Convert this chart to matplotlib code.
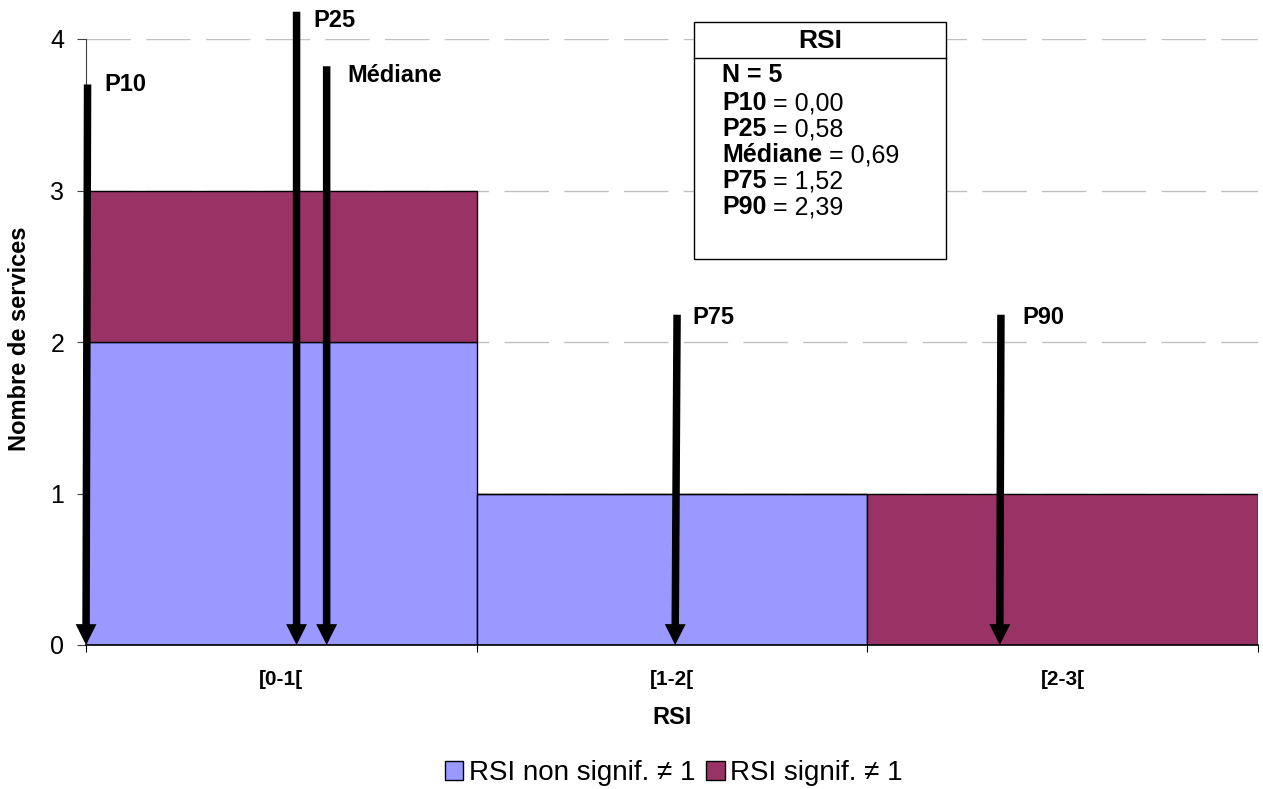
import matplotlib
matplotlib.use('Agg')
import matplotlib.pyplot as plt
from matplotlib.patches import Patch, Rectangle
from matplotlib.lines import Line2D
from matplotlib.text import Annotation
from matplotlib.ticker import FixedLocator

plt.rcParams['font.family'] = ['Liberation Sans', 'DejaVu Sans']

# données de l'histogramme
bins = ['[0-1[', '[1-2[', '[2-3[']
bin_left = [0, 1, 2]
non_signif = [2, 1, 0]
signif = [1, 0, 1]

# percentiles (flèches)
pct_names = ['P10', 'P25', 'Médiane', 'P75', 'P90']
pct_x_bottom = [0.0, 0.539, 0.616, 1.508, 2.339]
pct_x_top = [0.004, 0.539, 0.616, 1.513, 2.342]
pct_y_top = [3.70, 4.18, 3.82, 2.18, 2.18]
pct_label_x = [0.046, 0.581, 0.668, 1.551, 2.398]
pct_label_y = [3.70, 4.125, 3.756, 2.165, 2.165]

# encadré statistique
stat_bold = ['N = 5', 'P10', 'P25', 'Médiane', 'P75', 'P90']
stat_vals = ['', ' = 0,00', ' = 0,58', ' = 0,69', ' = 1,52', ' = 2,39']

col_non = '#9999FF'
col_sig = '#993366'

W, H = 1263, 789
fig = plt.figure(figsize=(W / 100, H / 100), dpi=100)
ax = fig.add_axes([86 / W, 1 - 645 / H, (1258 - 86) / W, (645 - 39) / H])

ax.bar(bin_left, non_signif, width=1, align='edge', color=col_non, edgecolor='black', lw=1, zorder=2)
ax.bar(bin_left, signif, width=1, align='edge', bottom=non_signif, color=col_sig, edgecolor='black', lw=1, zorder=2)

ax.set_xlim(0, 3)
ax.set_ylim(0, 4)
ax.set_yticks([0, 1, 2, 3, 4])
ax.tick_params(axis='y', labelsize=18, length=6.5, width=0.8, pad=9, color='#404040')
ax.xaxis.set_major_locator(FixedLocator([0, 1, 2, 3]))
ax.xaxis.set_minor_locator(FixedLocator([0.5, 1.5, 2.5]))
ax.set_xticklabels([])
ax.set_xticklabels(bins, minor=True, fontsize=15, fontweight='bold')
ax.tick_params(axis='x', which='major', length=5, width=0.8)
ax.tick_params(axis='x', which='minor', length=0, pad=18)

ax.spines['top'].set_visible(False)
ax.spines['right'].set_visible(False)
ax.spines['left'].set_color('#404040')
ax.spines['left'].set_linewidth(0.8)
ax.spines['bottom'].set_linewidth(1.2)
ax.set_axisbelow(True)
ax.yaxis.grid(True, color='#c0c0c0', lw=1, linestyle=(0, (32, 11)))

for xb, xt, yt in zip(pct_x_bottom, pct_x_top, pct_y_top):
    ax.annotate('', xy=(xb, 0), xytext=(xt, yt),
                arrowprops=dict(arrowstyle='simple,head_length=0.75,head_width=0.75,tail_width=0.27',
                                mutation_scale=20, fc='black', ec='none', shrinkA=0, shrinkB=0),
                annotation_clip=False, zorder=4)
for name, lx, ly in zip(pct_names, pct_label_x, pct_label_y):
    ax.text(lx, ly, name, fontsize=17, fontweight='bold', ha='left', va='center', clip_on=False, zorder=4)

fig.text(20 / W, 1 - 339 / H, 'Nombre de services', rotation=90, ha='center', va='center',
         fontsize=17, fontweight='bold')
fig.text(672 / W, 1 - 718 / H, 'RSI', ha='center', va='center', fontsize=17, fontweight='bold')

# encadré
bx0, bx1, by0, by1 = 694, 946, 22, 259
fig.patches.append(Rectangle((bx0 / W, 1 - by1 / H), (bx1 - bx0) / W, (by1 - by0) / H,
                             transform=fig.transFigure, fc='white', ec='black', lw=1, zorder=5))
fig.lines.append(Line2D([bx0 / W, bx1 / W], [1 - 58 / H, 1 - 58 / H], transform=fig.transFigure,
                        color='black', lw=1, zorder=6))
fig.text((bx0 + bx1) / 2 / W, 1 - 41 / H, 'RSI', ha='center', va='center', fontsize=19,
         fontweight='bold', zorder=6)
line_y = [75, 103, 129, 155, 181, 207]
for b, v, yy in zip(stat_bold, stat_vals, line_y):
    t = fig.text(722 / W, 1 - yy / H, b, ha='left', va='center', fontsize=18, fontweight='bold', zorder=6)
    if v:
        ann = Annotation(v, xy=(1, 0.5), xycoords=t, ha='left', va='center', fontsize=18,
                         annotation_clip=False, zorder=6)
        fig.add_artist(ann)

handles = [Patch(fc=col_non, ec='black', lw=1), Patch(fc=col_sig, ec='black', lw=1)]
fig.legend(handles, ['RSI non signif. ≠ 1', 'RSI signif. ≠ 1'], loc='center',
           bbox_to_anchor=(674 / W, 1 - 773 / H), ncol=2, frameon=False, fontsize=20,
           handlelength=0.65, handleheight=0.65, handletextpad=0.2, columnspacing=0.4)

fig.savefig('out.png', dpi=100)
